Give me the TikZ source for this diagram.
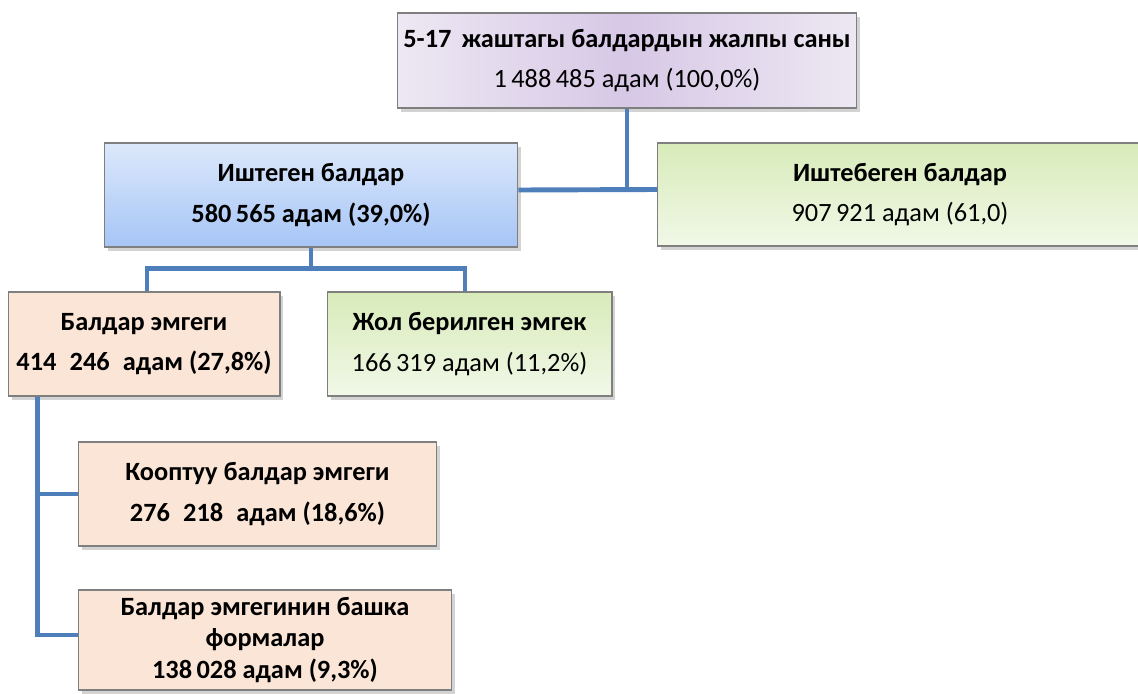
\documentclass[tikz,border=0pt]{standalone}
\usepackage{fontspec}
\setmainfont{Carlito}
\usetikzlibrary{shadows}

\definecolor{linkblue}{HTML}{4F7FBA}
\definecolor{boxgray}{HTML}{7F7F7F}
\definecolor{lilacedge}{HTML}{EDE8F3}
\definecolor{lilacmid}{HTML}{D7C8E6}
\definecolor{bluetop}{HTML}{DCE8FB}
\definecolor{bluebot}{HTML}{A6C5F6}
\definecolor{greentop}{HTML}{D8EBB9}
\definecolor{greenbot}{HTML}{F1F8E8}
\definecolor{peach}{HTML}{FBE5D6}

\begin{document}
\begin{tikzpicture}
  [x=0.02cm,y=-0.02cm,
   every node/.style={rectangle,draw=boxgray,line width=0.6pt,inner sep=2pt,align=center,
     font=\fontsize{15}{18}\selectfont,
     drop shadow={opacity=0.35,shadow xshift=2pt,shadow yshift=-2pt}},
   totalbox/.style={left color=lilacedge,right color=lilacedge,middle color=lilacmid},
   workbox/.style={top color=bluetop,bottom color=bluebot},
   greenbox/.style={top color=greentop,bottom color=greenbot},
   peachbox/.style={fill=peach},
   link/.style={draw=linkblue,line width=2.8pt}]

  \useasboundingbox (0,0) rectangle (1138,693);

  %%%%%%%%%%%%%%%%%%%%%% ROW 1 %%%%%%%%%%%%%%%%%%%%%%
  \node[totalbox,minimum width=9.2cm,minimum height=1.9cm] (total) at (627,60.5)
    {\textbf{5-17\, жаштагы балдардын жалпы саны}\\[5pt] 1\,488\,485 адам (100,0\%)};

  %%%%%%%%%%%%%%%%%%%%%% ROW 2 %%%%%%%%%%%%%%%%%%%%%%
  \node[workbox,minimum width=8.28cm,minimum height=2.08cm] (working) at (311,195)
    {\textbf{Иштеген балдар}\\[5pt] \textbf{580\,565 адам (39,0\%)}};
  \node[greenbox,minimum width=9.7cm,minimum height=2.06cm] (notworking) at (900,194.5)
    {\textbf{Иштебеген балдар}\\[5pt] 907\,921 адам (61,0)};

  %%%%%%%%%%%%%%%%%%%%%% ROW 3 %%%%%%%%%%%%%%%%%%%%%%
  \node[peachbox,minimum width=5.44cm,minimum height=2.08cm] (childlab) at (144,344)
    {\textbf{Балдар эмгеги}\\[5pt] \textbf{414\enspace 246\enspace адам (27,8\%)}};
  \node[greenbox,minimum width=5.7cm,minimum height=2.08cm] (allowed) at (469.5,344)
    {\textbf{Жол берилген эмгек}\\[5pt] 166\,319 адам (11,2\%)};

  %%%%%%%%%%%%%%%%%%%%%% ROW 4 %%%%%%%%%%%%%%%%%%%%%%
  \node[peachbox,minimum width=7.18cm,minimum height=2.08cm] (hazard) at (257.5,494)
    {\textbf{Кооптуу балдар эмгеги}\\[5pt] \textbf{276\enspace 218\enspace адам (18,6\%)}};
  \node[peachbox,minimum width=7.48cm,minimum height=2cm] (otherforms) at (265,640)
    {\textbf{Балдар эмгегинин башка}\\ \textbf{формалар}\\ \textbf{138\,028 адам (9,3\%)}};

  %%%%%%%%%%%%%%%%%%%%%% LINKS %%%%%%%%%%%%%%%%%%%%%%
  \coordinate (trunk) at ([xshift=0.6cm]childlab.south west);

  \draw[link] (total.south) -- ([yshift=0.1cm]total.south |- working.east);
  \draw[link] ([yshift=0.1cm]working.east) -- ([yshift=0.1cm]notworking.west);

  \foreach \toW/\dx in {childlab/3,allowed/-4.5}
    \draw[link] (working.south) -- ++(0,21) -| ([shift={(\dx,0)}]\toW.north);

  \foreach \toL/\dy in {hazard/0,otherforms/-5}
    \draw[link] (trunk) |- ([shift={(0,\dy)}]\toL.west);

\end{tikzpicture}
\end{document}
